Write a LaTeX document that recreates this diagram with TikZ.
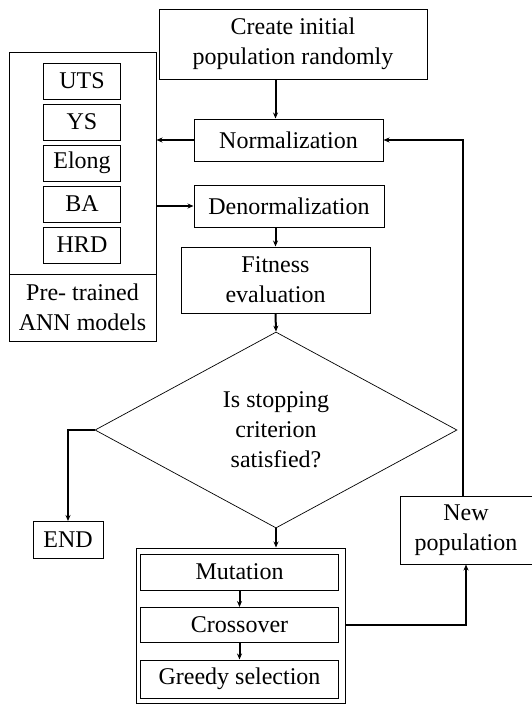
\documentclass[tikz,border=0pt]{standalone}
\usepackage{fontspec}
\setmainfont{Liberation Serif}
\usetikzlibrary{arrows.meta, positioning, shapes.geometric}

\tikzset{
	box/.style={draw, line width=1pt, align=center, inner sep=0pt},
	link/.style={-{Stealth[length=6pt,width=5pt]}, line width=2pt}
}

\begin{document}
\begin{tikzpicture}[x=1pt,y=-1pt,on grid,font=\fontsize{24}{30}\selectfont]
	\useasboundingbox (0,0) rectangle (532,704);

	\node (create) [box, minimum width=268, minimum height=70] at (293,44) {Create initial\\population randomly};
	\node (norm) [box, minimum width=189, minimum height=42] at (288.5,140) {Normalization};
	\node (denorm) [box, minimum width=190, minimum height=42] at (289,206) {Denormalization};
	\node (fit) [box, minimum width=189, minimum height=66] at (275.5,280) {Fitness\\evaluation};

	\node (annbox) [box, minimum width=147, minimum height=222] at (82.5,163) {};
	\node (annlbl) [box, minimum width=147, minimum height=67] at (82.5,307.5) {Pre- trained\\ANN models};
	\node (uts) [box, minimum width=77, minimum height=36] at (82,81) {UTS};
	\node (ys) [box, minimum width=77, minimum height=36, node distance=41pt, below of = uts] {YS};
	\node (elong) [box, minimum width=77, minimum height=36, node distance=41pt, below of = ys] {Elong};
	\node (ba) [box, minimum width=77, minimum height=36, node distance=41pt, below of = elong] {BA};
	\node (hrd) [box, minimum width=77, minimum height=36, node distance=41pt, below of = ba] {HRD};

	\node (dec) [draw, line width=0.7pt, diamond, aspect=1.85, inner sep=0pt, align=center,
		minimum width=362, minimum height=196] at (276,430) {Is stopping\\criterion\\satisfied?};
	\node (end) [box, minimum width=70, minimum height=37] at (68,540) {END};
	\node (newpop) [box, minimum width=132, minimum height=68] at (466,530) {New\\population};

	\node (ga) [box, minimum width=209, minimum height=155] at (240.5,625.5) {};
	\node (mut) [box, minimum width=198, minimum height=36] at (239.5,572) {Mutation};
	\node (cross) [box, minimum width=198, minimum height=35, node distance=53pt, below of = mut] {Crossover};
	\node (greedy) [box, minimum width=198, minimum height=38, node distance=54pt, below of = cross] {Greedy selection};

	\draw [link] (create.south -| fit) -- (norm.north -| fit);
	\draw [link] (norm.west) -- (norm.west -| annbox.east);
	\draw [link] (annbox.east |- denorm) -- (denorm.west);
	\draw [link] (denorm.south -| fit) -- (fit.north);
	\draw [link] (fit.south) -- (dec.north);

	\draw [link] (dec.west) -| (end.north);
	\draw [link] (dec.south) -- (dec.south |- ga.north);
	%\draw [link] (dec.east) -| (newpop.north);

	\draw [link] (mut) -- (cross);
	\draw [link] (cross) -- (greedy);
	\draw [link] (ga.east |- cross) -| (newpop.south);
	\draw [link] ([xshift=-3pt]newpop.north) |- (norm.east);

\end{tikzpicture}
\end{document}
